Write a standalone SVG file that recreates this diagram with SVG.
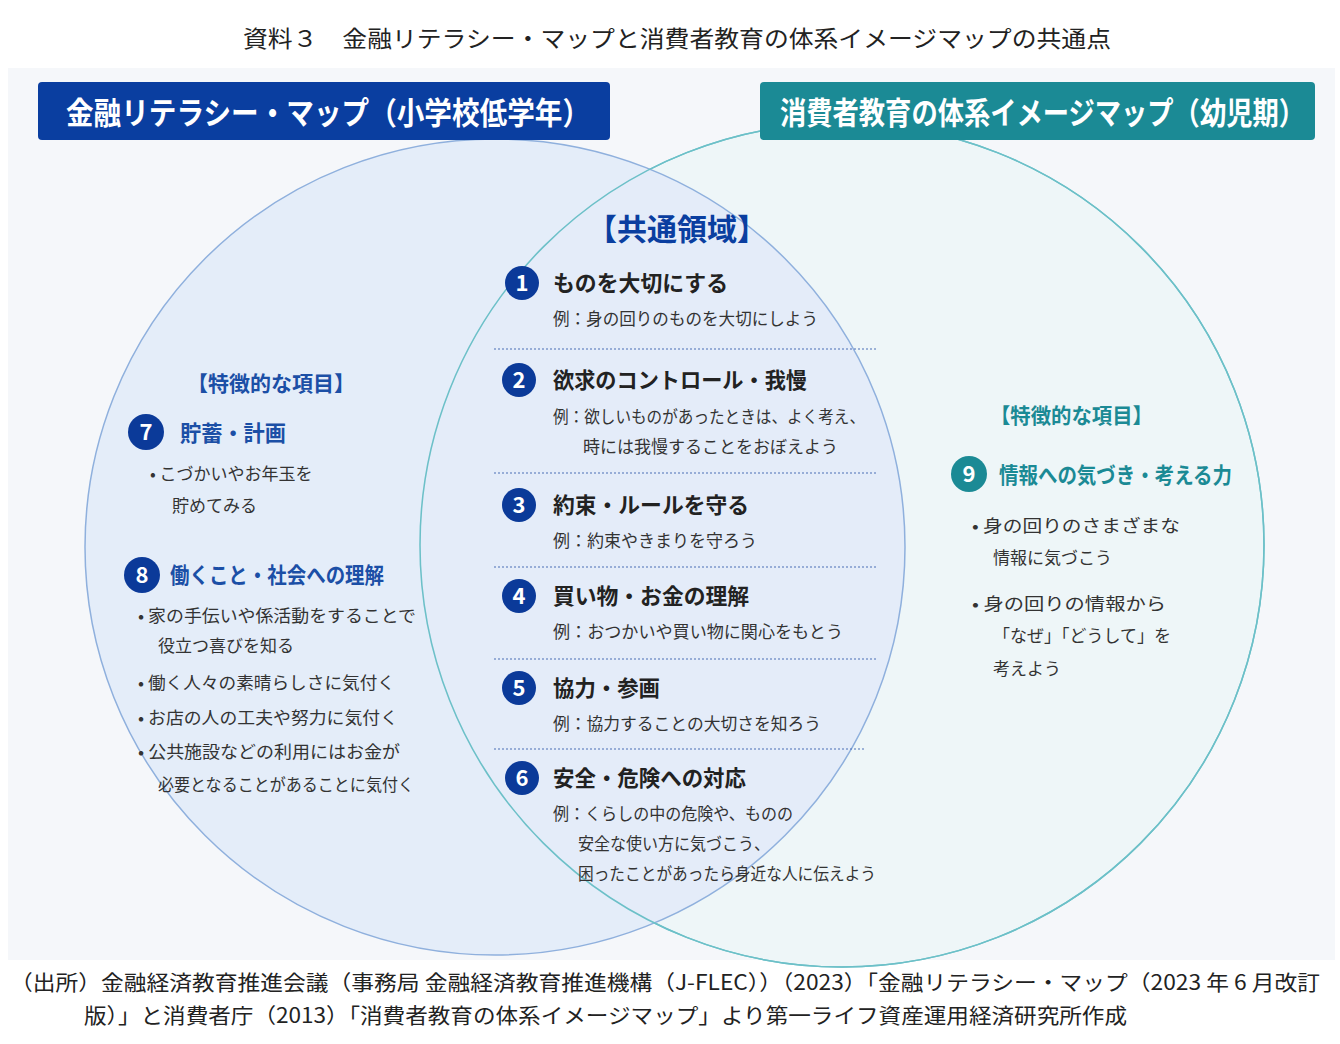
<svg xmlns="http://www.w3.org/2000/svg" width="1340" height="1044" viewBox="0 0 1340 1044">
<style>
text{font-family:"Noto Sans CJK JP","Noto Sans",sans-serif;fill:#222}
.t{font-size:23px}
.h{font-size:22px;font-weight:bold;fill:#222}
.ex{font-size:17px;fill:#333}
.b{font-size:17px;fill:#333}
.num{font-size:22px;font-weight:bold;fill:#fff;text-anchor:middle}
.sep{stroke:#4a6fb5;stroke-width:1.2;stroke-dasharray:2 2}
.src{font-size:21px;font-family:"Noto Sans CJK JP",sans-serif}
</style>
<rect width="1340" height="1044" fill="#fff"/>
<text x="243" y="47" class="t" textLength="868" lengthAdjust="spacingAndGlyphs">資料３　金融リテラシー・マップと消費者教育の体系イメージマップの共通点</text>
<rect x="8" y="68" width="1327" height="892" fill="#f5f7fa"/>
<g id="circles">
<circle cx="842" cy="545" r="422" fill="#eef6f8" stroke="#6cc0c8" stroke-width="1.5"/>
<ellipse cx="495" cy="547" rx="410" ry="408" fill="#e2ebf8" fill-opacity="0.9" stroke="#8fb0dd" stroke-width="1.5"/>
<circle cx="842" cy="545" r="422" fill="none" stroke="#6cc0c8" stroke-width="1.5"/>
</g>
<g id="title-left"><rect x="38" y="82" width="572" height="58" rx="4" fill="#0a3ea0"/>
<text x="66" y="124" font-size="31" font-weight="bold" style="fill:#fff" textLength="524" lengthAdjust="spacingAndGlyphs">金融リテラシー・マップ（小学校低学年）</text></g>
<g id="title-right"><rect x="760" y="82" width="555" height="58" rx="4" fill="#1b8a95"/>
<text x="780" y="124" font-size="31" font-weight="bold" style="fill:#fff" textLength="525" lengthAdjust="spacingAndGlyphs">消費者教育の体系イメージマップ（幼児期）</text></g>
<g id="common">
<text x="677" y="240" font-size="30" font-weight="bold" text-anchor="middle" style="fill:#0a3ea0">【共通領域】</text>
<circle cx="522" cy="283" r="17" fill="#0b3a99"/><text x="522" y="291" class="num">1</text>
<text x="553" y="291" class="h" textLength="175" lengthAdjust="spacingAndGlyphs">ものを大切にする</text>
<text x="553" y="325" class="ex" textLength="265" lengthAdjust="spacingAndGlyphs">例：身の回りのものを大切にしよう</text>
<line x1="494" y1="349" x2="877" y2="349" class="sep"/>
<circle cx="519" cy="380" r="17" fill="#0b3a99"/><text x="519" y="388" class="num">2</text>
<text x="553" y="388" class="h" textLength="254" lengthAdjust="spacingAndGlyphs">欲求のコントロール・我慢</text>
<text x="553" y="423" class="ex" textLength="312" lengthAdjust="spacingAndGlyphs">例：欲しいものがあったときは、よく考え、</text>
<text x="583" y="453" class="ex">時には我慢することをおぼえよう</text>
<line x1="494" y1="473" x2="877" y2="473" class="sep"/>
<circle cx="519" cy="505" r="17" fill="#0b3a99"/><text x="519" y="513" class="num">3</text>
<text x="553" y="513" class="h" textLength="196" lengthAdjust="spacingAndGlyphs">約束・ルールを守る</text>
<text x="553" y="547" class="ex">例：約束やきまりを守ろう</text>
<line x1="494" y1="567" x2="877" y2="567" class="sep"/>
<circle cx="519" cy="596" r="17" fill="#0b3a99"/><text x="519" y="604" class="num">4</text>
<text x="553" y="604" class="h" textLength="196" lengthAdjust="spacingAndGlyphs">買い物・お金の理解</text>
<text x="553" y="638" class="ex" textLength="290" lengthAdjust="spacingAndGlyphs">例：おつかいや買い物に関心をもとう</text>
<line x1="494" y1="659" x2="877" y2="659" class="sep"/>
<circle cx="519" cy="688" r="17" fill="#0b3a99"/><text x="519" y="696" class="num">5</text>
<text x="553" y="696" class="h" textLength="107" lengthAdjust="spacingAndGlyphs">協力・参画</text>
<text x="553" y="730" class="ex" textLength="268" lengthAdjust="spacingAndGlyphs">例：協力することの大切さを知ろう</text>
<line x1="494" y1="749" x2="864" y2="749" class="sep"/>
<circle cx="522" cy="778" r="17" fill="#0b3a99"/><text x="522" y="786" class="num">6</text>
<text x="553" y="786" class="h" textLength="193" lengthAdjust="spacingAndGlyphs">安全・危険への対応</text>
<text x="553" y="820" class="ex" textLength="240" lengthAdjust="spacingAndGlyphs">例：くらしの中の危険や、ものの</text>
<text x="578" y="850" class="ex" textLength="192" lengthAdjust="spacingAndGlyphs">安全な使い方に気づこう、</text>
<text x="578" y="880" class="ex" textLength="298" lengthAdjust="spacingAndGlyphs">困ったことがあったら身近な人に伝えよう</text>
</g>
<g id="left-items">
<text x="187" y="391" font-size="21" font-weight="bold" style="fill:#1b4fa6" textLength="168" lengthAdjust="spacingAndGlyphs">【特徴的な項目】</text>
<circle cx="146" cy="432" r="18" fill="#0b3a99"/><text x="146" y="440" class="num">7</text>
<text x="180" y="441" class="h" style="fill:#1b4fa6" textLength="106" lengthAdjust="spacingAndGlyphs">貯蓄・計画</text>
<text x="150" y="480" class="b">•  こづかいやお年玉を</text>
<text x="172" y="512" class="b">貯めてみる</text>
<circle cx="142" cy="575" r="18" fill="#0b3a99"/><text x="142" y="583" class="num">8</text>
<text x="170" y="583" class="h" style="fill:#1b4fa6" textLength="214" lengthAdjust="spacingAndGlyphs">働くこと・社会への理解</text>
<text x="138" y="622" class="b" textLength="278" lengthAdjust="spacingAndGlyphs">•  家の手伝いや係活動をすることで</text>
<text x="158" y="652" class="b">役立つ喜びを知る</text>
<text x="138" y="689" class="b" textLength="257" lengthAdjust="spacingAndGlyphs">•  働く人々の素晴らしさに気付く</text>
<text x="138" y="724" class="b" textLength="260" lengthAdjust="spacingAndGlyphs">•  お店の人の工夫や努力に気付く</text>
<text x="138" y="758" class="b" textLength="262" lengthAdjust="spacingAndGlyphs">•  公共施設などの利用にはお金が</text>
<text x="158" y="791" class="b" textLength="256" lengthAdjust="spacingAndGlyphs">必要となることがあることに気付く</text>
</g>
<g id="right-items">
<text x="990" y="423" font-size="21" font-weight="bold" style="fill:#1b8a95" textLength="163" lengthAdjust="spacingAndGlyphs">【特徴的な項目】</text>
<circle cx="969" cy="474" r="18" fill="#1b8a95"/><text x="969" y="482" class="num">9</text>
<text x="999" y="483" class="h" style="fill:#1b8a95" textLength="233" lengthAdjust="spacingAndGlyphs">情報への気づき・考える力</text>
<text x="972" y="532" class="b" textLength="208" lengthAdjust="spacingAndGlyphs">•  身の回りのさまざまな</text>
<text x="993" y="564" class="b">情報に気づこう</text>
<text x="972" y="610" class="b" textLength="194" lengthAdjust="spacingAndGlyphs">•  身の回りの情報から</text>
<text x="993" y="642" class="b">「なぜ」「どうして」を</text>
<text x="993" y="675" class="b">考えよう</text>
</g>
<text x="10" y="990" class="src" textLength="1310" lengthAdjust="spacingAndGlyphs">（出所）金融経済教育推進会議（事務局 金融経済教育推進機構（J-FLEC））（2023）「金融リテラシー・マップ（2023 年 6 月改訂</text>
<text x="84" y="1023" class="src" textLength="1043" lengthAdjust="spacingAndGlyphs">版）」と消費者庁（2013）「消費者教育の体系イメージマップ」より第一ライフ資産運用経済研究所作成</text>
</svg>
